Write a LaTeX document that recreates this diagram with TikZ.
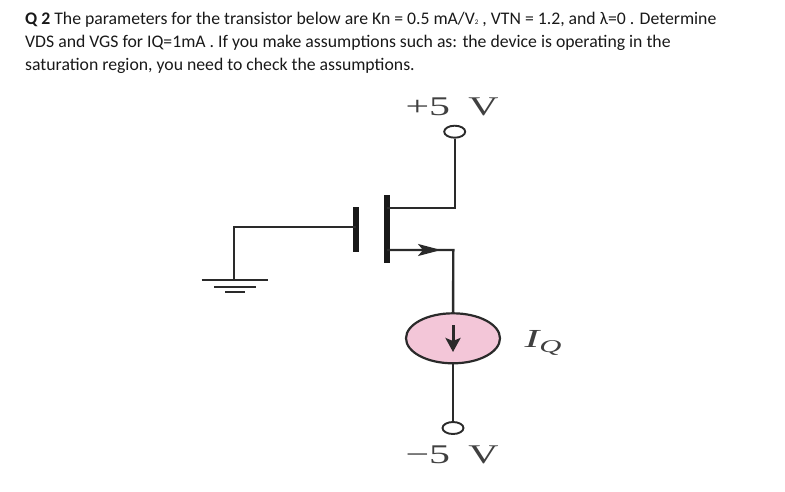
\documentclass[tikz,border=0pt]{standalone}
\usepackage{fontspec}
\setmainfont{Carlito}
\newfontfamily\figfont{Liberation Serif}
\usepackage{tikz}
\usetikzlibrary{shapes.geometric,arrows.meta}
\definecolor{wirecol}{HTML}{2A2A2A}
\definecolor{srcpink}{HTML}{F3C6D8}
\tikzset{
  wire/.style={draw=wirecol,line width=2.4pt},
  qline/.style={anchor=base west,inner sep=0pt,font=\fontsize{17.72}{20}\selectfont,text=black!90},
  term/.style={ellipse,draw=wirecol,fill=white,line width=1.9pt,minimum width=21pt,minimum height=12pt,inner sep=0pt},
  bar/.style={rectangle,fill=black!90,minimum width=6pt,inner sep=0pt},
  volt/.style={inner sep=0pt,text=black!75,xscale=1.55,font=\figfont\fontsize{27}{30}\selectfont},
  gndline/.style={draw=wirecol,line width=2.4pt}
}
\begin{document}
\begin{tikzpicture}[>=stealth,x=1pt,y=-1pt]
\useasboundingbox (0,0) rectangle (785,491);
% question text
\node[qline] (q1) at (25,24) {\textbf{Q 2} The parameters for the transistor below are Kn = 0.5 mA/V{\scriptsize 2} , VTN = 1.2, and λ=0 . Determine};
\node[qline] (q2) at (25,47) {VDS and VGS for IQ=1mA . If you make assumptions such as: the device is operating in the};
\node[qline] (q3) at (25,70) {saturation region, you need to check the assumptions.};
% transistor
\node[bar,minimum height=45pt] (gatebar) at (356,229) {};
\node[bar,minimum height=68pt] (chanbar) at (387.3,229) {};
\coordinate (drainturn) at (454.7,208);
\coordinate (sourceturn) at (453.3,250);
\coordinate (drainstub) at (387.3,208);
\coordinate (sourcestub) at (387.3,250);
\coordinate (gatestub) at (356,227.3);
\coordinate (gateturn) at (234.3,227.3);
% supply and source
\node[term] (vdd) at (454.7,131.7) {};
\node[term] (vss) at (453,428) {};
\node[ellipse,draw=wirecol,fill=srcpink,line width=2.2pt,minimum width=94pt,minimum height=50pt,inner sep=0pt] (iq) at (453,338.3) {};
\node[volt] (vddlabel) at (452,106.5) {+5\hspace{5pt} V};
\node[volt] (vsslabel) at (452,454.5) {−5\hspace{5pt} V};
\node[inner sep=0pt,text=black!75,xscale=1.7,font=\figfont\fontsize{26}{28}\selectfont\itshape] (iqlabel) at (543,343) {I\raisebox{-5pt}{\fontsize{18}{19}\selectfont Q}};
% ground
\coordinate (gnd1) at (234.3,280);
\coordinate (gnd1l) at (201.7,280);
\coordinate (gnd1r) at (268.3,280);
\coordinate (gnd2l) at (214,286.7);
\coordinate (gnd2r) at (256,286.7);
\coordinate (gnd3l) at (225,292);
\coordinate (gnd3r) at (245,292);
% wires
\draw[wire] (vdd) -- (drainturn) -- (drainstub);
\draw[wire] (sourcestub) -- (sourceturn) -- (iq);
\draw[wire] (iq) -- (vss);
\draw[wire,line width=2pt] (gatestub) -- (gateturn) -- (gnd1);
\coordinate (arrowend) at (441,250);
\draw[-{Stealth[length=23pt,width=12pt,inset=5pt]},wire] (sourcestub) -- (arrowend);
\draw[gndline] (gnd1l) -- (gnd1r);
\draw[gndline] (gnd2l) -- (gnd2r);
\draw[gndline] (gnd3l) -- (gnd3r);
% current arrow
\coordinate (iqtop) at (453,325);
\coordinate (iqbot) at (453,352);
\draw[-{Stealth[length=14pt,width=15pt,inset=3pt]},wire,line width=3pt] (iqtop) -- (iqbot);
\end{tikzpicture}
\end{document}
